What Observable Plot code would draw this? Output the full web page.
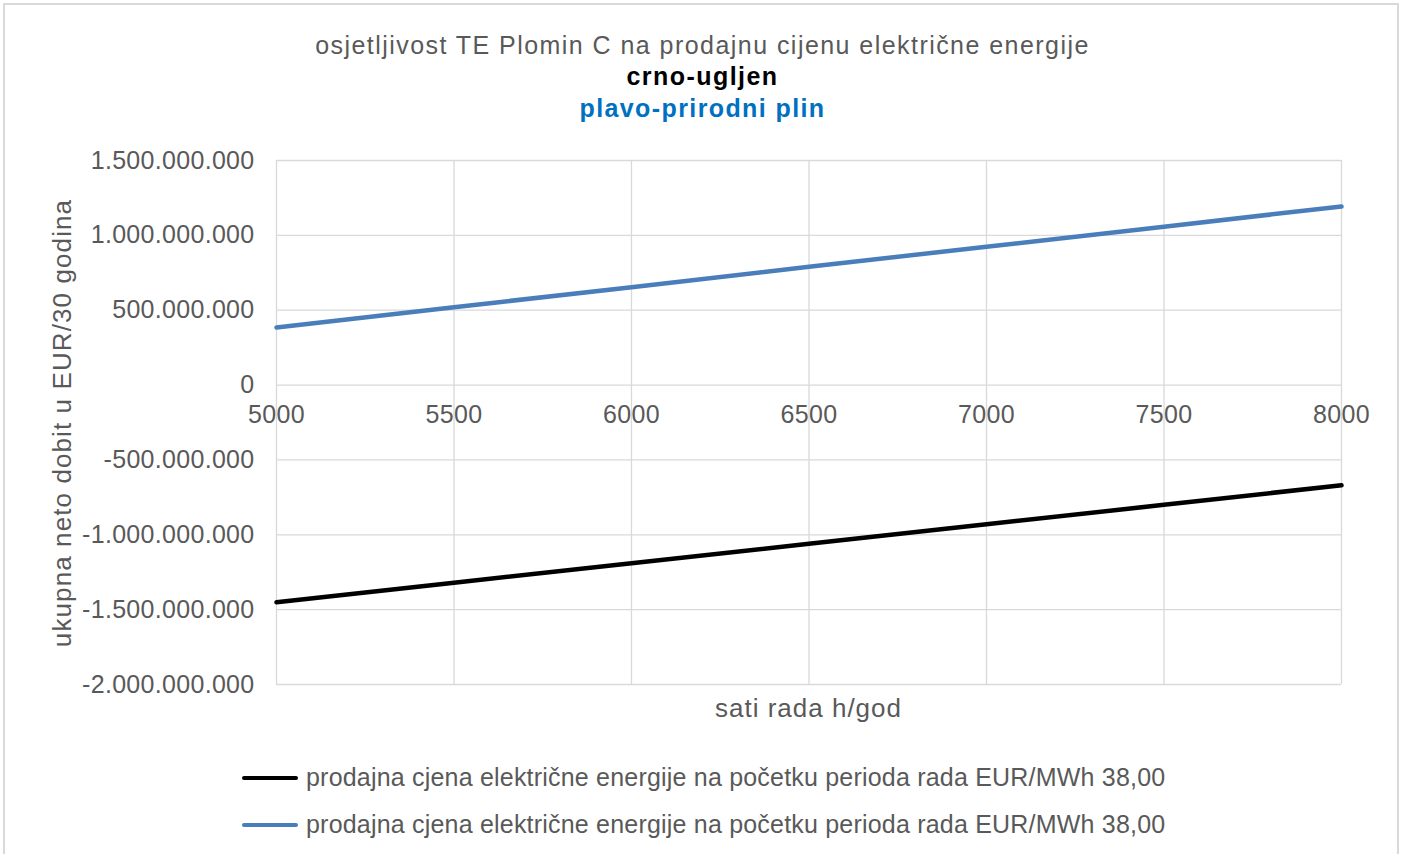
<!DOCTYPE html>
<html>
<head>
<meta charset="utf-8">
<script src="https://cdn.jsdelivr.net/npm/d3@7"></script>
<script src="https://cdn.jsdelivr.net/npm/@observablehq/plot@0.6"></script>
<style>
  html, body { margin: 0; padding: 0; background: #fff; }
  #wrap { position: relative; width: 1405px; height: 854px; overflow: hidden; font-family: "Liberation Sans", Arial, sans-serif; }
  #frame { position: absolute; left: 3px; top: 3px; width: 1396px; height: 860px; border: 2px solid #d9d9d9; box-sizing: border-box; }
  .t { position: absolute; left: 0; width: 1405px; text-align: center; white-space: nowrap; line-height: 1; }
  #t1 { top: 33px; font-size: 25px; color: #595959; letter-spacing: 1.45px; }
  #t2 { top: 64px; font-size: 25px; font-weight: bold; color: #000; letter-spacing: 1.45px; }
  #t3 { top: 96px; font-size: 25px; font-weight: bold; color: #0070C0; letter-spacing: 1.4px; }
  #chart { position: absolute; left: 0; top: 0; }
  #ylab { position: absolute; left: 62px; top: 423px; transform: translate(-50%, -50%) rotate(-90deg); font-size: 26px; color: #595959; white-space: nowrap; line-height: 1; letter-spacing: 1.1px; }
  #xlab { position: absolute; left: 0; width: 1617px; top: 695px; text-align: center; font-size: 26px; color: #595959; white-space: nowrap; line-height: 1; letter-spacing: 1px; }
  .leg { position: absolute; left: 242px; font-size: 25px; color: #595959; white-space: nowrap; line-height: 1; display: flex; align-items: center; letter-spacing: 0.2px; }
  .sw { width: 56px; height: 4px; border-radius: 2px; margin-right: 8px; }
</style>
</head>
<body>
<div id="wrap">
  <div id="frame"></div>
  <div id="chart"></div>
  <div class="t" id="t1"></div>
  <div class="t" id="t2"></div>
  <div class="t" id="t3"></div>
  <div id="ylab"></div>
  <div id="xlab"></div>
  <div class="leg" id="leg1" style="top:765px"><div class="sw" style="background:#000"></div><span></span></div>
  <div class="leg" id="leg2" style="top:812px"><div class="sw" style="background:#4A7EBB"></div><span></span></div>
</div>
<script>
const titleLines = ["osjetljivost TE Plomin C na prodajnu cijenu električne energije", "crno-ugljen", "plavo-prirodni plin"];
const yTitle = "ukupna neto dobit u EUR/30 godina";
const xTitle = "sati rada h/god";
const seriesNames = ["prodajna cjena električne energije na početku perioda rada EUR/MWh 38,00", "prodajna cjena električne energije na početku perioda rada EUR/MWh 38,00"];
const seriesColors = ["#000000", "#4A7EBB"];

const hours = [5000, 5500, 6000, 6500, 7000, 7500, 8000];
const coal = [-1450000000, -1320000000, -1190000000, -1060000000, -930000000, -800000000, -669000000];
const gas = [385000000, 520000000, 654000000, 790000000, 924000000, 1058000000, 1193000000];

const xTicks = [5000, 5500, 6000, 6500, 7000, 7500, 8000];
const yTicks = [-2000000000, -1500000000, -1000000000, -500000000, 0, 500000000, 1000000000, 1500000000];

document.getElementById("t1").textContent = titleLines[0];
document.getElementById("t2").textContent = titleLines[1];
document.getElementById("t3").textContent = titleLines[2];
document.getElementById("ylab").textContent = yTitle;
document.getElementById("xlab").textContent = xTitle;
document.querySelector("#leg1 span").textContent = seriesNames[0];
document.querySelector("#leg2 span").textContent = seriesNames[1];

const fmt = d => (d < 0 ? "-" : "") + String(Math.abs(d)).replace(/\B(?=(\d{3})+(?!\d))/g, ".");

const data = [];
hours.forEach((h, i) => {
  data.push({h, v: coal[i], s: "coal"});
  data.push({h, v: gas[i], s: "gas"});
});

const chart = Plot.plot({
  width: 1405,
  height: 854,
  marginTop: 160,
  marginBottom: 170,
  marginLeft: 276,
  marginRight: 64,
  style: {fontFamily: "Liberation Sans, Arial, sans-serif", background: "transparent", letterSpacing: "0.3px"},
  x: {domain: [5000, 8000], axis: null},
  y: {domain: [-2000000000, 1500000000], axis: null},
  color: {domain: ["coal", "gas"], range: seriesColors},
  marks: [
    Plot.gridX(xTicks, {stroke: "#d9d9d9", strokeOpacity: 1, strokeWidth: 1.3}),
    Plot.gridY(yTicks, {stroke: "#d9d9d9", strokeOpacity: 1, strokeWidth: 1.3}),
    Plot.axisY(yTicks, {tickSize: 0, tickPadding: 22, tickFormat: fmt, fontSize: 25, fill: "#595959", label: null}),
    Plot.text(xTicks, {x: d => d, y: 0, dy: 30, text: d => String(d), fontSize: 25, fill: "#595959"}),
    Plot.line(data, {x: "h", y: "v", z: "s", stroke: "s", strokeWidth: 4.5})
  ]
});
document.getElementById("chart").appendChild(chart);
</script>
</body>
</html>
